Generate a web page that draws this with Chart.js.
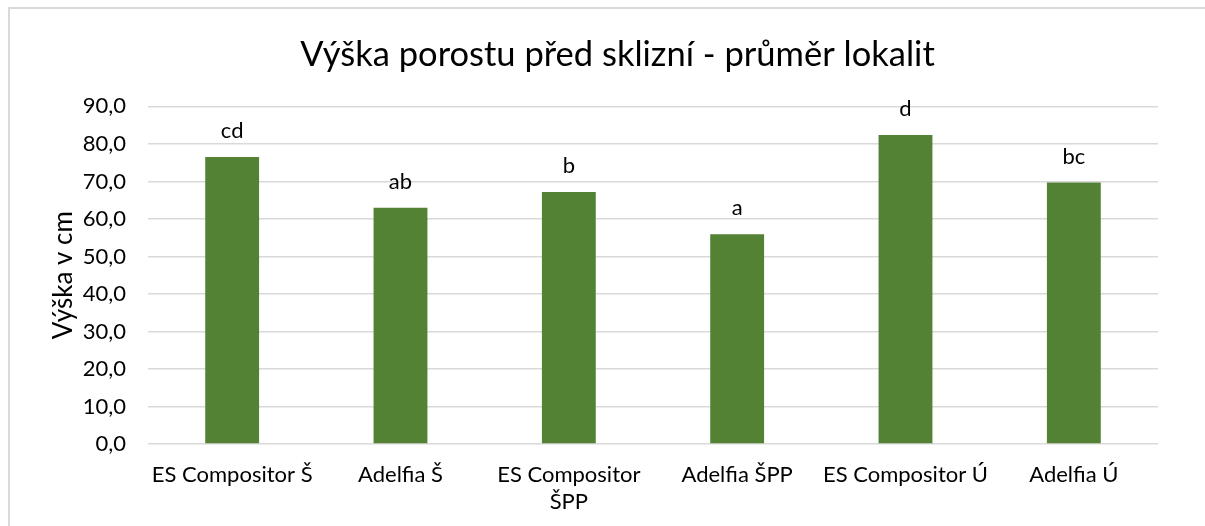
<!DOCTYPE html>
<html>
<head>
<meta charset="utf-8">
<script src="https://cdn.jsdelivr.net/npm/chart.js@4.4.0/dist/chart.umd.min.js"></script>
<style>
  html, body { margin: 0; padding: 0; background: #fff; overflow: hidden; }
  #frame { position: absolute; left: 8px; top: 7px; width: 1300px; height: 600px;
           border-left: 2px solid #d9d9d9; border-top: 2px solid #d9d9d9; }
  #wrap { position: absolute; left: 0; top: 0; width: 1205px; height: 526px; }
</style>
</head>
<body>
<div id="frame"></div>
<div id="wrap"><canvas id="c" width="1205" height="526"></canvas></div>
<script>
const categories = [
  "ES Compositor Š",
  "Adelfia Š",
  ["ES Compositor", "ŠPP"],
  "Adelfia ŠPP",
  "ES Compositor Ú",
  "Adelfia Ú"
];
const heights = [76.5, 63.0, 67.2, 55.9, 82.4, 69.7];
const groupLetters = ["cd", "ab", "b", "a", "d", "bc"];
const yTicks = [0, 10, 20, 30, 40, 50, 60, 70, 80, 90];

const FONT = "Lato, 'Open Sans', sans-serif";

const letterPlugin = {
  id: 'letters',
  afterDatasetsDraw(chart) {
    const ctx = chart.ctx;
    const meta = chart.getDatasetMeta(0);
    ctx.save();
    ctx.font = "22px " + FONT;
    ctx.fillStyle = "#000";
    ctx.textAlign = "center";
    ctx.textBaseline = "alphabetic";
    meta.data.forEach((bar, i) => {
      ctx.fillText(groupLetters[i], bar.x, bar.y - 19);
    });
    ctx.restore();
  }
};

new Chart(document.getElementById('c'), {
  type: 'bar',
  data: {
    labels: categories,
    datasets: [{
      data: heights,
      backgroundColor: '#548235',
      borderWidth: 0,
      categoryPercentage: 1,
      barPercentage: 0.32
    }]
  },
  options: {
    responsive: false,
    animation: false,
    devicePixelRatio: 1,
    layout: { padding: { top: 0, left: 30, right: 0, bottom: 0 } },
    plugins: {
      legend: { display: false },
      tooltip: { enabled: false },
      title: {
        display: true,
        text: 'Výška porostu před sklizní - průměr lokalit',
        color: '#000',
        font: { family: FONT, size: 34.5, weight: 'normal' },
        padding: { top: 34, bottom: 31 }
      }
    },
    scales: {
      x: {
        afterFit(scale) { scale.height = 82; },
        grid: { display: false, drawTicks: false },
        border: { display: false },
        ticks: {
          color: '#000',
          font: { family: FONT, size: 22 },
          padding: 18,
          maxRotation: 0,
          autoSkip: false
        }
      },
      y: {
        min: 0,
        max: 90,
        afterBuildTicks(scale) { scale.ticks = yTicks.map(v => ({ value: v })); },
        afterFit(scale) { scale.width = 118; },
        grid: { color: '#d9d9d9', lineWidth: 1.5, drawTicks: false },
        border: { display: false },
        ticks: {
          color: '#000',
          font: { family: FONT, size: 22 },
          padding: 22,
          callback: v => v.toFixed(1).replace('.', ',')
        },
        title: {
          display: true,
          text: 'Výška v cm',
          color: '#000',
          font: { family: FONT, size: 26 },
          padding: { top: 18, bottom: 0 }
        }
      },
      yRight: {
        position: 'right',
        display: true,
        min: 0,
        max: 90,
        afterFit(scale) { scale.width = 47; },
        grid: { display: false, drawTicks: false },
        border: { display: false },
        ticks: { display: false }
      }
    }
  },
  plugins: [letterPlugin]
});
</script>
</body>
</html>
